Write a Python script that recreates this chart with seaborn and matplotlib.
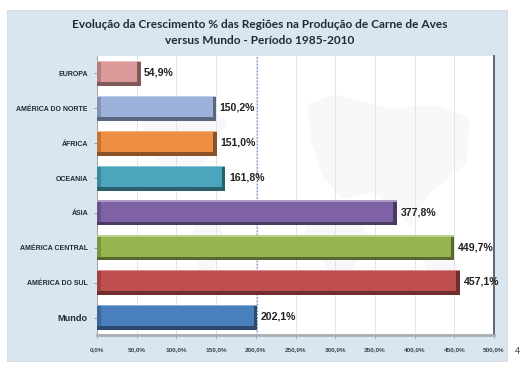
import matplotlib
matplotlib.use("Agg")
import matplotlib.pyplot as plt
from matplotlib.colors import to_rgb
from matplotlib.patches import Rectangle, Polygon
import numpy as np
import pandas as pd
import seaborn as sns

regioes = ["EUROPA", "AMÉRICA DO NORTE", "ÁFRICA", "OCEANIA", "ÁSIA",
           "AMÉRICA CENTRAL", "AMÉRICA DO SUL", "Mundo"]
crescimento = [54.9, 150.2, 151.0, 161.8, 377.8, 449.7, 457.1, 202.1]
rotulos = ["54,9%", "150,2%", "151,0%", "161,8%", "377,8%", "449,7%", "457,1%", "202,1%"]
cores = ["#dc9a9a", "#9db2da", "#ee8e43", "#4aa5bd", "#7f62a6", "#96b551", "#c0504d", "#4a7fbd"]
ticks_x = [0, 50, 100, 150, 200, 250, 300, 350, 400, 450, 500]
ticks_rotulos = ["0,0%", "50,0%", "100,0%", "150,0%", "200,0%", "250,0%",
                 "300,0%", "350,0%", "400,0%", "450,0%", "500,0%"]

W, H = 520, 369
sns.set_theme(style="white")
plt.rcParams["font.family"] = ["Lato", "DejaVu Sans"]

fig = plt.figure(figsize=(W / 100, H / 100), dpi=100, facecolor="white")

# painel azul claro atras do grafico
fig.add_artist(Rectangle((7 / W, 1 - 361 / H), 500 / W, 351 / H, transform=fig.transFigure,
                         facecolor="#d9e5ef", edgecolor="#d2d8de", lw=0.6, zorder=-5))

ax = fig.add_axes([97 / W, 1 - 335 / H, 397 / W, 279 / H], facecolor="white")

df = pd.DataFrame({"regiao": regioes, "valor": crescimento})
sns.barplot(data=df, y="regiao", x="valor", hue="regiao", palette=cores, legend=False,
            width=0.72, saturation=1, ax=ax, zorder=3, linewidth=0)
ax.set_xlim(0, 500)
ax.set_ylim(len(regioes) - 0.5, -0.5)

# mapa-mundi bem apagado no fundo
mapa = [
    [(265, 0.9), (300, 0.6), (370, 1.0), (430, 0.9), (470, 1.3), (465, 2.6), (420, 3.4),
     (395, 4.4), (350, 3.4), (310, 3.6), (285, 3.0), (270, 2.0)],
    [(270, 3.7), (320, 3.8), (340, 4.6), (320, 5.8), (300, 6.3), (285, 5.4), (262, 4.6)],
    [(50, 1.2), (130, 0.8), (165, 1.4), (140, 2.4), (110, 3.4), (80, 2.6)],
    [(125, 3.7), (160, 4.3), (150, 5.4), (135, 6.2), (120, 4.8)],
    [(410, 5.3), (450, 5.2), (460, 6.0), (425, 6.2)],
]
for pts in mapa:
    ax.add_patch(Polygon(pts, closed=True, facecolor="#f8f8fb", edgecolor="none", zorder=0))

# grade vertical
ax.set_xticks(ticks_x)
ax.set_xticklabels(ticks_rotulos)
ax.grid(axis="x", color="#e2e4e8", lw=0.7, zorder=1)
ax.grid(axis="y", visible=False)
ax.set_axisbelow(True)
ax.axvline(202.1, color="#6f93c4", lw=0.8, ls=(0, (1.5, 1.5)), zorder=2)

# efeito 3D das barras: borda inferior e direita escuras, brilho em cima
escala = 397 / 500
for barra, cor in zip(ax.patches[:len(regioes)], cores):
    x0, y0, larg, alt = barra.get_x(), barra.get_y(), barra.get_width(), barra.get_height()
    escura = tuple(c * 0.58 for c in to_rgb(cor))
    media = tuple(c * 0.82 for c in to_rgb(cor))
    clara = tuple(c + (1 - c) * 0.35 for c in to_rgb(cor))
    lado = 3.5 / escala
    ax.add_patch(Rectangle((x0, y0), lado, alt, facecolor=media, lw=0, zorder=3.5))
    ax.add_patch(Rectangle((x0 + larg - lado, y0), lado, alt, facecolor=escura, lw=0, zorder=3.5))
    ax.add_patch(Rectangle((x0, y0), larg, alt * 0.05, facecolor=clara, lw=0, zorder=3.6))
    ax.add_patch(Rectangle((x0, y0 + alt * 0.85), larg, alt * 0.15, facecolor=escura, lw=0, zorder=3.6))

for i, (v, r) in enumerate(zip(crescimento, rotulos)):
    ax.text(v + 4.5, i - 0.02, r, ha="left", va="center", fontsize=7.6, fontweight="bold",
            color="#222222", family=["Liberation Sans", "DejaVu Sans"], zorder=5)

ax.set_xlabel("")
ax.set_ylabel("")
ax.tick_params(axis="x", length=2, width=0.6, color="#8a8f96", labelsize=4.6,
               labelcolor="#3b4656", pad=7, bottom=True)
ax.tick_params(axis="y", length=2, width=0.6, color="#8a8f96", labelsize=5.0,
               labelcolor="#222a36", pad=4.5, left=True)
for lab in ax.get_yticklabels():
    lab.set_fontweight("bold")
    lab.set_family(["Liberation Sans", "DejaVu Sans"])
ax.get_yticklabels()[-1].set_fontsize(6.6)
for lab in ax.get_xticklabels():
    lab.set_fontweight("bold")
    lab.set_family(["Liberation Sans", "DejaVu Sans"])

ax.spines["top"].set_visible(False)
ax.spines["left"].set_color("#9aa0a6")
ax.spines["left"].set_linewidth(0.7)
ax.spines["right"].set_color("#5f6871")
ax.spines["right"].set_linewidth(1.4)
ax.spines["bottom"].set_color("#a9adb0")
ax.spines["bottom"].set_linewidth(2)

fig.text(260 / W, 1 - 24 / H, "Evolução da Crescimento % das Regiões na Produção de Carne de Aves",
         ha="center", va="center", fontsize=8.6, fontweight="bold", color="#1f2a35")
fig.text(260 / W, 1 - 40 / H, "versus Mundo - Período 1985-2010",
         ha="center", va="center", fontsize=8.6, fontweight="bold", color="#1f2a35")
fig.text(515 / W, 1 - 351 / H, "4", ha="left", va="center", fontsize=6.5, color="#444444")

fig.savefig("out.png", dpi=100)
